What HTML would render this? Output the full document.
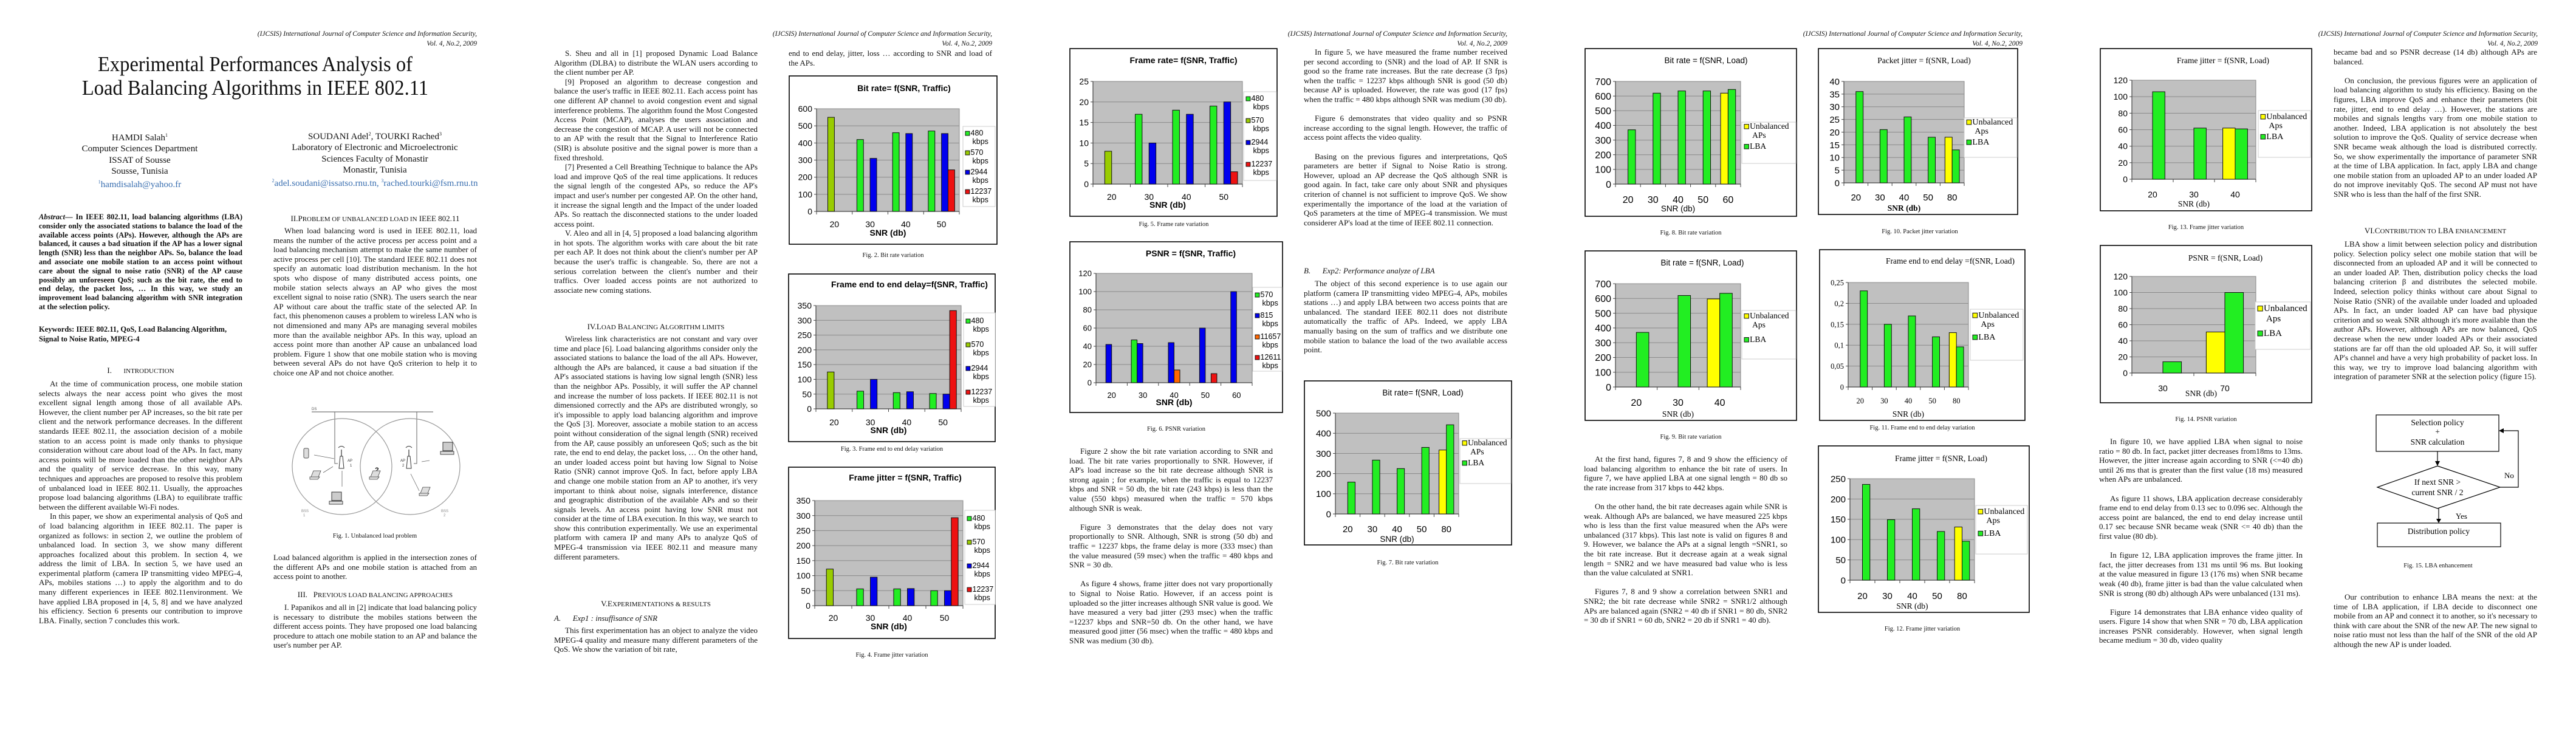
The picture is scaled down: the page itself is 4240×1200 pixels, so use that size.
<!DOCTYPE html>
<html><head><meta charset="utf-8">
<style>
body{margin:0;width:4240px;height:1200px;background:#fff;position:relative;overflow:hidden;font-family:"Liberation Serif",serif;color:#111}
.t{position:absolute;width:335px;font-size:13px;line-height:15.6px;text-align:justify}
.t p{margin:0;text-indent:18px}
.hd{position:absolute;width:430px;font-style:italic;font-size:11.5px;line-height:15.5px;text-align:right}
.h{position:absolute;width:335px;text-align:center;font-size:13px;line-height:15.6px}
.cap{position:absolute;width:340px;text-align:center;font-size:10.5px}
.au{position:absolute;width:360px;text-align:center;font-size:15px;line-height:18.3px}
.au a{color:#3a6fb0;text-decoration:none}
svg{position:absolute;left:0;top:0}
</style></head><body>
<svg id="cv" width="4240" height="1200" viewBox="0 0 4240 1200"></svg>

<div class="hd" style="left:355px;top:49px">(IJCSIS) International Journal of Computer Science and Information Security,<br>Vol. 4, No.2, 2009</div>
<div class="hd" style="left:1203px;top:49px">(IJCSIS) International Journal of Computer Science and Information Security,<br>Vol. 4, No.2, 2009</div>
<div class="hd" style="left:2051px;top:49px">(IJCSIS) International Journal of Computer Science and Information Security,<br>Vol. 4, No.2, 2009</div>
<div class="hd" style="left:2899px;top:49px">(IJCSIS) International Journal of Computer Science and Information Security,<br>Vol. 4, No.2, 2009</div>
<div class="hd" style="left:3747px;top:49px">(IJCSIS) International Journal of Computer Science and Information Security,<br>Vol. 4, No.2, 2009</div>

<div style="position:absolute;left:60px;top:86px;width:720px;text-align:center;font-size:35px;line-height:39px;transform:scaleX(0.93);transform-origin:360px 0">Experimental Performances Analysis of<br>Load Balancing Algorithms in IEEE 802.11</div>

<div class="au" style="left:50px;top:214px">HAMDI Salah<sup style="font-size:8px">1</sup><br>Computer Sciences Department<br>ISSAT of Sousse<br>Sousse, Tunisia<br><a><sup style="font-size:8px">1</sup>hamdisalah@yahoo.fr</a></div>
<div class="au" style="left:417px;top:212px;width:400px">SOUDANI Adel<sup style="font-size:8px">2</sup>, TOURKI Rached<sup style="font-size:8px">3</sup><br>Laboratory of Electronic and Microelectronic<br>Sciences Faculty of Monastir<br>Monastir, Tunisia<br><a><sup style="font-size:8px">2</sup>adel.soudani@issatso.rnu.tn, <sup style="font-size:8px">3</sup>rached.tourki@fsm.rnu.tn</a></div>

<div class="t" style="left:64px;top:350px;font-weight:bold;font-size:12.5px;line-height:14.8px"><i>Abstract</i>— In IEEE 802.11, load balancing algorithms (LBA) consider only the associated stations to balance the load of the available access points (APs). However, although the APs are balanced, it causes a bad situation if the AP has a lower signal length (SNR) less than the neighbor APs. So, balance the load and associate one mobile station to an access point without care about the signal to noise ratio (SNR) of the AP cause possibly an unforeseen QoS; such as the bit rate, the end to end delay, the packet loss, … In this way, we study an improvement load balancing algorithm with SNR integration at the selection policy.</div>
<div class="t" style="left:64px;top:535px;font-weight:bold;font-size:12.5px;text-align:left">Keywords: IEEE 802.11, QoS, Load Balancing Algorithm, Signal to Noise Ratio, MPEG-4</div>
<div class="h" style="left:64px;top:602px">I.&nbsp;&nbsp;&nbsp;&nbsp;&nbsp;&nbsp;<span style="font-size:11px">INTRODUCTION</span></div>
<div class="t" style="left:64px;top:624px"><p>At the time of communication process, one mobile station selects always the near access point who gives the most excellent signal length among those of all available APs. However, the client number per AP increases, so the bit rate per client and the network performance decreases. In the different standards IEEE 802.11, the association decision of a mobile station to an access point is made only thanks to physique consideration without care about load of the APs. In fact, many access points will be more loaded than the other neighbor APs and the quality of service decrease. In this way, many techniques and approaches are proposed to resolve this problem of unbalanced load in IEEE 802.11. Usually, the approaches propose load balancing algorithms (LBA) to equilibrate traffic between the different available Wi-Fi nodes.</p><p>In this paper, we show an experimental analysis of QoS and of load balancing algorithm in IEEE 802.11. The paper is organized as follows: in section 2, we outline the problem of unbalanced load. In section 3, we show many different approaches focalized about this problem. In section 4, we address the limit of LBA. In section 5, we have used an experimental platform (camera IP transmitting video MPEG-4, APs, mobiles stations …) to apply the algorithm and to do many different experiences in IEEE 802.11environment. We have applied LBA proposed in [4, 5, 8] and we have analyzed his efficiency. Section 6 presents our contribution to improve LBA. Finally, section 7 concludes this work.</p></div>

<div class="h" style="left:450px;top:352px">II.P<span style="font-size:11px">ROBLEM OF UNBALANCED LOAD IN</span> IEEE 802.11</div>
<div class="t" style="left:450px;top:372px"><p>When load balancing word is used in IEEE 802.11, load means the number of the active process per access point and a load balancing mechanism attempt to make the same number of active process per cell [10]. The standard IEEE 802.11 does not specify an automatic load distribution mechanism. In the hot spots who dispose of many distributed access points, one mobile station selects always an AP who gives the most excellent signal to noise ratio (SNR). The users search the near AP without care about the traffic state of the selected AP. In fact, this phenomenon causes a problem to wireless LAN who is not dimensioned and many APs are managing several mobiles more than the available neighbor APs. In this way, upload an access point more than another AP cause an unbalanced load problem. Figure 1 show that one mobile station who is moving between several APs do not have QoS criterion to help it to choice one AP and not choice another.</p></div>
<div class="cap" style="left:447px;top:877px">Fig. 1. Unbalanced load problem</div>
<div class="t" style="left:450px;top:910px">Load balanced algorithm is applied in the intersection zones of the different APs and one mobile station is attached from an access point to another.</div>
<div class="h" style="left:450px;top:971px">III.&nbsp;&nbsp;&nbsp;P<span style="font-size:11px">REVIOUS LOAD BALANCING APPROACHES</span></div>
<div class="t" style="left:450px;top:992px"><p>I. Papanikos and all in [2] indicate that load balancing policy is necessary to distribute the mobiles stations between the different access points. They have proposed one load balancing procedure to attach one mobile station to an AP and balance the user's number per AP.</p></div>

<div class="t" style="left:912px;top:80px"><p>S. Sheu and all in [1] proposed Dynamic Load Balance Algorithm (DLBA) to distribute the WLAN users according to the client number per AP.</p><p>[9] Proposed an algorithm to decrease congestion and balance the user's traffic in IEEE 802.11. Each access point has one different AP channel to avoid congestion event and signal interference problems. The algorithm found the Most Congested Access Point (MCAP), analyses the users association and decrease the congestion of MCAP. A user will not be connected to an AP with the result that the Signal to Interference Ratio (SIR) is absolute positive and the signal power is more than a fixed threshold.</p><p>[7] Presented a Cell Breathing Technique to balance the APs load and improve QoS of the real time applications. It reduces the signal length of the congested APs, so reduce the AP's impact and user's number per congested AP. On the other hand, it increase the signal length and the Impact of the under loaded APs. So reattach the disconnected stations to the under loaded access point.</p><p>V. Aleo and all in [4, 5] proposed a load balancing algorithm in hot spots. The algorithm works with care about the bit rate per each AP. It does not think about the client's number per AP because the user's traffic is changeable. So, there are not a serious correlation between the client's number and their traffics. Over loaded access points are not authorized to associate new coming stations.</p></div>
<div class="h" style="left:912px;top:530px">IV.L<span style="font-size:11px">OAD</span> B<span style="font-size:11px">ALANCING</span> A<span style="font-size:11px">LGORITHM LIMITS</span></div>
<div class="t" style="left:912px;top:550px"><p>Wireless link characteristics are not constant and vary over time and place [6]. Load balancing algorithms consider only the associated stations to balance the load of the all APs. However, although the APs are balanced, it cause a bad situation if the AP's associated stations is having low signal length (SNR) less than the neighbor APs. Possibly, it will suffer the AP channel and increase the number of loss packets. If IEEE 802.11 is not dimensioned correctly and the APs are distributed wrongly, so it's impossible to apply load balancing algorithm and improve the QoS [3]. Moreover, associate a mobile station to an access point without consideration of the signal length (SNR) received from the AP, cause possibly an unforeseen QoS; such as the bit rate, the end to end delay, the packet loss, … On the other hand, an under loaded access point but having low Signal to Noise Ratio (SNR) cannot improve QoS. In fact, before apply LBA and change one mobile station from an AP to another, it's very important to think about noise, signals interference, distance and geographic distribution of the available APs and so their signals levels. An access point having low SNR must not consider at the time of LBA execution. In this way, we search to show this contribution experimentally. We use an experimental platform with camera IP and many APs to analyze QoS of MPEG-4 transmission via IEEE 802.11 and measure many different parameters.</p></div>
<div class="h" style="left:912px;top:986px">V.E<span style="font-size:11px">XPERIMENTATIONS &amp; RESULTS</span></div>
<div class="t" style="left:912px;top:1010px;font-style:italic;text-align:left">A.&nbsp;&nbsp;&nbsp;&nbsp;&nbsp;&nbsp;Exp1 : insuffisance of SNR</div>
<div class="t" style="left:912px;top:1030px"><p>This first experimentation has an object to analyze the video MPEG-4 quality and measure many different parameters of the QoS. We show the variation of bit rate,</p></div>
<div class="t" style="left:1298px;top:80px">end to end delay, jitter, loss … according to SNR and load of the APs.</div>
<div class="cap" style="left:1300px;top:415px">Fig. 2. Bit rate variation</div>
<div class="cap" style="left:1298px;top:734px">Fig. 3. Frame end to end delay variation</div>
<div class="cap" style="left:1298px;top:1073px">Fig. 4. Frame jitter variation</div>

<div class="cap" style="left:1762px;top:364px">Fig. 5. Frame rate variation</div>
<div class="cap" style="left:1766px;top:701px">Fig. 6. PSNR variation</div>
<div class="t" style="left:1760px;top:735px"><p>Figure 2 show the bit rate variation according to SNR and load. The bit rate varies proportionally to SNR. However, if AP's load increase so the bit rate decrease although SNR is strong again ; for example, when the traffic is equal to 12237 kbps and SNR = 50 db, the bit rate (243 kbps) is less than the value (550 kbps) measured when the traffic = 570 kbps although SNR is weak.</p><p style="margin-top:15.6px">Figure 3 demonstrates that the delay does not vary proportionally to SNR. Although, SNR is strong (50 db) and traffic = 12237 kbps, the frame delay is more (333 msec) than the value measured (59 msec) when the traffic = 480 kbps and SNR = 30 db.</p><p style="margin-top:15.6px">As figure 4 shows, frame jitter does not vary proportionally to Signal to Noise Ratio. However, if an access point is uploaded so the jitter increases although SNR value is good. We have measured a very bad jitter (293 msec) when the traffic =12237 kbps and SNR=50 db. On the other hand, we have measured good jitter (56 msec) when the traffic = 480 kbps and SNR was medium (30 db).</p></div>
<div class="t" style="left:2146px;top:78px"><p>In figure 5, we have measured the frame number received per second according to (SNR) and the load of AP. If SNR is good so the frame rate increases. But the rate decrease (3 fps) when the traffic = 12237 kbps although SNR is good (50 db) because AP is uploaded. However, the rate was good (17 fps) when the traffic = 480 kbps although SNR was medium (30 db).</p><p style="margin-top:15.6px">Figure 6 demonstrates that video quality and so PSNR increase according to the signal length. However, the traffic of access point affects the video quality.</p><p style="margin-top:15.6px">Basing on the previous figures and interpretations, QoS parameters are better if Signal to Noise Ratio is strong. However, upload an AP decrease the QoS although SNR is good again. In fact, take care only about SNR and physiques criterion of channel is not sufficient to improve QoS. We show experimentally the importance of the load at the variation of QoS parameters at the time of MPEG-4 transmission. We must considerer AP's load at the time of IEEE 802.11 connection.</p></div>
<div class="t" style="left:2146px;top:438px;font-style:italic;text-align:left">B.&nbsp;&nbsp;&nbsp;&nbsp;&nbsp;&nbsp;Exp2: Performance analyze of LBA</div>
<div class="t" style="left:2146px;top:459px"><p>The object of this second experience is to use again our platform (camera IP transmitting video MPEG-4, APs, mobiles stations …) and apply LBA between two access points that are unbalanced. The standard IEEE 802.11 does not distribute automatically the traffic of APs. Indeed, we apply LBA manually basing on the sum of traffics and we distribute one mobile station to balance the load of the two available access point.</p></div>
<div class="cap" style="left:2147px;top:921px">Fig. 7. Bit rate variation</div>

<div class="cap" style="left:2613px;top:378px">Fig. 8. Bit rate variation</div>
<div class="cap" style="left:2613px;top:714px">Fig. 9. Bit rate variation</div>
<div class="t" style="left:2607px;top:748px"><p>At the first hand, figures 7, 8 and 9 show the efficiency of load balancing algorithm to enhance the bit rate of users. In figure 7, we have applied LBA at one signal length = 80 db so the rate increase from 317 kbps to 442 kbps.</p><p style="margin-top:15.6px">On the other hand, the bit rate decreases again while SNR is weak. Although APs are balanced, we have measured 225 kbps who is less than the first value measured when the APs were unbalanced (317 kbps). This last note is valid on figures 8 and 9. However, we balance the APs at a signal length =SNR1, so the bit rate increase. But it decrease again at a weak signal length = SNR2 and we have measured bad value who is less than the value calculated at SNR1.</p><p style="margin-top:15.6px">Figures 7, 8 and 9 show a correlation between SNR1 and SNR2; the bit rate decrease while SNR2 = SNR1/2 although APs are balanced again (SNR2 = 40 db if SNR1 = 80 db, SNR2 = 30 db if SNR1 = 60 db, SNR2 = 20 db if SNR1 = 40 db).</p></div>
<div class="cap" style="left:2990px;top:376px">Fig. 10. Packet jitter variation</div>
<div class="cap" style="left:2994px;top:699px">Fig. 11. Frame end to end delay variation</div>
<div class="cap" style="left:2994px;top:1030px">Fig. 12. Frame jitter variation</div>

<div class="cap" style="left:3461px;top:369px">Fig. 13. Frame jitter variation</div>
<div class="cap" style="left:3461px;top:685px">Fig. 14. PSNR variation</div>
<div class="t" style="left:3455px;top:719px"><p>In figure 10, we have applied LBA when signal to noise ratio = 80 db. In fact, packet jitter decreases from18ms to 13ms. However, the jitter increase again according to SNR (&lt;=40 db) until 26 ms that is greater than the first value (18 ms) measured when APs are unbalanced.</p><p style="margin-top:15.6px">As figure 11 shows, LBA application decrease considerably frame end to end delay from 0.13 sec to 0.096 sec. Although the access point are balanced, the end to end delay increase until 0.17 sec because SNR became weak (SNR &lt;= 40 db) than the first value (80 db).</p><p style="margin-top:15.6px">In figure 12, LBA application improves the frame jitter. In fact, the jitter decreases from 131 ms until 96 ms. But looking at the value measured in figure 13 (176 ms) when SNR became weak (40 db), frame jitter is bad than the value calculated when SNR is strong (80 db) although APs were unbalanced (131 ms).</p><p style="margin-top:15.6px">Figure 14 demonstrates that LBA enhance video quality of users. Figure 14 show that when SNR = 70 db, LBA application increases PSNR considerably. However, when signal length became medium = 30 db, video quality</p></div>
<div class="t" style="left:3841px;top:78px">became bad and so PSNR decrease (14 db) although APs are balanced.<p style="margin-top:15.6px">On conclusion, the previous figures were an application of load balancing algorithm to study his efficiency. Basing on the figures, LBA improve QoS and enhance their parameters (bit rate, jitter, end to end delay …). However, the stations are mobiles and signals lengths vary from one mobile station to another. Indeed, LBA application is not absolutely the best solution to improve the QoS. Quality of service decrease when SNR became weak although the load is distributed correctly. So, we show experimentally the importance of parameter SNR at the time of LBA application. In fact, apply LBA and change one mobile station from an uploaded AP to an under loaded AP do not improve inevitably QoS. The second AP must not have SNR who is less than the half of the first SNR.</p></div>
<div class="h" style="left:3841px;top:372px">VI.C<span style="font-size:11px">ONTRIBUTION TO</span> LBA <span style="font-size:11px">ENHANCEMENT</span></div>
<div class="t" style="left:3841px;top:394px"><p>LBA show a limit between selection policy and distribution policy. Selection policy select one mobile station that will be disconnected from an uploaded AP and it will be connected to an under loaded AP. Then, distribution policy checks the load balancing criterion β and distributes the selected mobile. Indeed, selection policy thinks without care about Signal to Noise Ratio (SNR) of the available under loaded and uploaded APs. In fact, an under loaded AP can have bad physique criterion and so weak SNR although it's more available than the author APs. However, although APs are now balanced, QoS decrease when the new under loaded APs or their associated stations are far off than the old uploaded AP. So, it will suffer AP's channel and have a very high probability of packet loss. In this way, we try to improve load balancing algorithm with integration of parameter SNR at the selection policy (figure 15).</p></div>
<div class="cap" style="left:3843px;top:926px">Fig. 15. LBA enhancement</div>
<div class="t" style="left:3841px;top:975px"><p>Our contribution to enhance LBA means the next: at the time of LBA application, if LBA decide to disconnect one mobile from an AP and connect it to another, so it's necessary to think with care about the SNR of the new AP. The new signal to noise ratio must not less than the half of the SNR of the old AP although the new AP is under loaded.</p></div>

<script>
// ===== Fig 2: Bit rate = f(SNR, Traffic)
const f2Cats=["20","30","40","50"];
const f2Names=["480","570","2944","12237"];
const f2V480=[null,420,460,470];
const f2V570=[550,null,null,null];
const f2V2944=[null,310,455,455];
const f2V12237=[null,null,null,243];
const f2Ticks=[0,100,200,300,400,500,600];
// ===== Fig 3: Frame end to end delay
const f3Cats=["20","30","40","50"];
const f3Names=["480","570","2944","12237"];
const f3V480=[null,60,55,52];
const f3V570=[125,null,null,null];
const f3V2944=[null,100,58,50];
const f3V12237=[null,null,null,333];
const f3Ticks=[0,50,100,150,200,250,300,350];
// ===== Fig 4: Frame jitter
const f4Cats=["20","30","40","50"];
const f4Names=["480","570","2944","12237"];
const f4V480=[null,56,56,50];
const f4V570=[122,null,null,null];
const f4V2944=[null,95,57,50];
const f4V12237=[null,null,null,293];
const f4Ticks=[0,50,100,150,200,250,300,350];
// ===== Fig 5: Frame rate
const f5Cats=["20","30","40","50"];
const f5Names=["480","570","2944","12237"];
const f5V480=[null,17,18,19];
const f5V570=[8,null,null,null];
const f5V2944=[null,10,17,20];
const f5V12237=[null,null,null,3];
const f5Ticks=[0,5,10,15,20,25];
// ===== Fig 6: PSNR = f(SNR, Traffic)
const f6Cats=["20","30","40","50","60"];
const f6Names=["570","815","11657","12611"];
const f6V570=[null,47,null,null,null];
const f6V815=[42,43,44,60,100];
const f6V11657=[null,null,14,null,null];
const f6V12611=[null,null,null,10,null];
const f6Ticks=[0,20,40,60,80,100,120];
// ===== Fig 7
const f7Cats=["20","30","40","50","80"];
const f7Unb=[null,null,null,null,317];
const f7LBA=[158,267,225,330,442];
const f7Ticks=[0,100,200,300,400,500];
// ===== Fig 8
const f8Cats=["20","30","40","50","60"];
const f8Unb=[null,null,null,null,620];
const f8LBA=[370,620,635,635,645];
const f8Ticks=[0,100,200,300,400,500,600,700];
// ===== Fig 9
const f9Cats=["20","30","40"];
const f9Unb=[null,null,597];
const f9LBA=[370,620,635];
const f9Ticks=[0,100,200,300,400,500,600,700];
// ===== Fig 10 Packet jitter
const f10Cats=["20","30","40","50","80"];
const f10Unb=[null,null,null,null,18];
const f10LBA=[36,21,26,18,13];
const f10Ticks=[0,5,10,15,20,25,30,35,40];
// ===== Fig 11 Frame end to end delay
const f11Cats=["20","30","40","50","80"];
const f11Unb=[null,null,null,null,0.13];
const f11LBA=[0.23,0.15,0.17,0.12,0.096];
const f11Ticks=[0,0.05,0.1,0.15,0.2,0.25];
const f11TickLabels=["0","0,05","0,1","0,15","0,2","0,25"];
// ===== Fig 12 Frame jitter
const f12Cats=["20","30","40","50","80"];
const f12Unb=[null,null,null,null,131];
const f12LBA=[236,149,176,120,96];
const f12Ticks=[0,50,100,150,200,250];
// ===== Fig 13 Frame jitter
const f13Cats=["20","30","40"];
const f13Unb=[null,null,62];
const f13LBA=[106,62,61];
const f13Ticks=[0,20,40,60,80,100,120];
// ===== Fig 14 PSNR
const f14Cats=["30","70"];
const f14Unb=[null,51];
const f14LBA=[14,100];
const f14Ticks=[0,20,40,60,80,100,120];

const NS="http://www.w3.org/2000/svg";
const cv=document.getElementById('cv');
function mk(tag,at,parent){const e=document.createElementNS(NS,tag);for(const k in at)e.setAttribute(k,at[k]);(parent||cv).appendChild(e);return e;}
function tx(str,at,parent){const e=mk('text',at,parent);e.textContent=str;return e;}

const GREEN="#22ee22",OLIVE="#99cc00",BLUE="#0000ee",RED="#ee1111",ORANGE="#ff6600",YELLOW="#ffff00";
const SANS='"Liberation Sans",Arial,sans-serif',SERIF='"Liberation Serif",serif';

function drawChart(c){
  const g=mk('g',{});
  
  
  const [bx1,by1,bx2,by2]=c.box,[px1,py1,px2,py2]=c.plot;
  const frame=mk('rect',{x:bx1,y:by1,width:bx2-bx1,height:by2-by1,fill:'#fff',stroke:'#000','stroke-width':1.6},g);
  
  
  const pa=mk('rect',{x:px1,y:py1,width:px2-px1,height:py2-py1,fill:'#c0c0c0',stroke:'#888','stroke-width':1},g);
  
  
  const ymax=c.ticks[c.ticks.length-1];
  const ys=v=>py2-v/ymax*(py2-py1);
  c.ticks.forEach((v,i)=>{
    if(v>0){const gl=mk('line',{x1:px1,x2:px2,y1:ys(v),y2:ys(v),stroke:'#8a8a8a','stroke-width':1},g);
      
      }
    const lab=c.tickLabels?c.tickLabels[i]:String(v);
    const t=tx(lab,{x:px1-7,y:ys(v)+c.tfs*0.36,'text-anchor':'end','font-size':c.tfs,'font-family':c.tfont,fill:'#000'},g);
    
    
    mk('line',{x1:px1-4,x2:px1,y1:ys(v),y2:ys(v),stroke:'#444'},g);
  });
  mk('line',{x1:px1,x2:px1,y1:py1,y2:py2,stroke:'#444','stroke-width':1.2},g);
  mk('line',{x1:px1,x2:px2,y1:py2,y2:py2,stroke:'#444','stroke-width':1.2},g);
  const n=c.cats.length,cw=(px2-px1)/n,ns=c.series.length,w=cw*c.slot;
  for(let i=0;i<=n;i++)mk('line',{x1:px1+i*cw,x2:px1+i*cw,y1:py2,y2:py2+5,stroke:'#444'},g);
  c.cats.forEach((cat,i)=>{
    const cx=px1+cw*(i+0.5);
    c.series.forEach((s,j)=>{
      const v=s.vals[i]; if(v==null)return;
      const x=cx-ns*w/2+j*w;
      const b=mk('rect',{x:x,y:ys(v),width:w,height:py2-ys(v),fill:s.color,stroke:'#111','stroke-width':1},g);
      
      
    });
    const xl=tx(cat,{x:cx,y:c.xly,'text-anchor':'middle','font-size':c.xfs||c.tfs,'font-family':c.xfont||c.tfont,fill:'#000'},g);
    
    
  });
  const at=tx('SNR (db)',{x:c.atx||(px1+px2)/2,y:c.aty,'text-anchor':'middle','font-size':c.afs,'font-family':c.afont,'font-weight':c.abold?'bold':'normal',fill:'#000'},g);
  
  
  const ti=tx(c.title,{x:c.ttx,y:c.tty,'text-anchor':'middle','font-size':c.ttfs,'font-family':c.ttfont,'font-weight':c.ttbold?'bold':'normal',fill:'#000'},g);
  
  
  const [lx1,ly1,lx2,ly2]=c.legend;
  const lg=mk('rect',{x:lx1,y:ly1,width:lx2-lx1,height:ly2-ly1,fill:'#fff',stroke:'#ccc','stroke-width':1},g);
  
  
  c.series.forEach((s,j)=>{
    const ey=ly1+c.legOff[j];
    const m=mk('rect',{x:lx1+4,y:ey-c.lfs*0.55,width:c.lfs*0.55,height:c.lfs*0.55,fill:s.color,stroke:'#111','stroke-width':1},g);
    
    
    const lt=tx(s.label[0],{x:lx1+5+c.lfs*0.6,y:ey,'font-size':c.lfs,'font-family':c.lfont,fill:'#000'},g);
    
    
    if(s.label[1]){const l2=tx(s.label[1],{x:lx1+5+c.lfs*0.6+c.l2ind,y:ey+c.l2dy,'font-size':c.lfs,'font-family':c.lfont,fill:'#000'},g);
      
      }
  });
}
function traffic(names,vals,colors){return names.map((nm,j)=>({name:nm,label:[nm,'kbps'],vals:vals[j],color:colors[j]}));}
function load(unb,lba,aps){return [{name:'Unbalanced',label:['Unbalanced',aps],vals:unb,color:YELLOW},{name:'LBA',label:['LBA',null],vals:lba,color:GREEN}];}
const C4=[GREEN,OLIVE,BLUE,RED];
const t4={tfs:14,tfont:SANS,afs:14,afont:SANS,abold:true,ttfs:14,ttfont:SANS,ttbold:true,lfs:12.5,lfont:SANS,l2ind:3,l2dy:14,slot:0.185};
const t2s={tfs:16,tfont:SANS,afs:13.5,afont:SANS,abold:false,ttfs:13.5,ttfont:SANS,ttbold:false,lfs:13.5,lfont:SERIF,l2ind:4,l2dy:15,slot:0.3,legOff:[11,44]};
const t2r={tfs:15,tfont:SANS,afs:13.5,afont:SERIF,abold:true,ttfs:13.5,ttfont:SERIF,ttbold:false,lfs:14,lfont:SERIF,l2ind:4,l2dy:15,slot:0.3,legOff:[11,44]};

drawChart(Object.assign({},t4,{id:'fig2-bit-rate-chart',title:'Bit rate= f(SNR, Traffic)',box:[1299,125,1641,402],plot:[1344,179,1579,348],legend:[1585,208,1638,340],ttx:1488,tty:150,xly:374,aty:388,cats:f2Cats,ticks:f2Ticks,legOff:[15,47,79,111],series:traffic(f2Names,[f2V480,f2V570,f2V2944,f2V12237],C4)}));
drawChart(Object.assign({},t4,{id:'fig3-delay-chart',title:'Frame end to end delay=f(SNR, Traffic)',box:[1298,451,1638,727],plot:[1343,503,1582,673],legend:[1586,515,1638,669],ttx:1497,tty:473,xly:700,aty:713,cats:f3Cats,ticks:f3Ticks,legOff:[17,56,95,134],series:traffic(f3Names,[f3V480,f3V570,f3V2944,f3V12237],C4)}));
drawChart(Object.assign({},t4,{id:'fig4-jitter-chart',title:'Frame jitter  = f(SNR, Traffic)',box:[1298,769,1638,1051],plot:[1341,824,1585,997],legend:[1588,840,1638,995],ttx:1490,tty:791,xly:1022,aty:1036,cats:f4Cats,ticks:f4Ticks,legOff:[17,56,95,134],series:traffic(f4Names,[f4V480,f4V570,f4V2944,f4V12237],C4)}));
drawChart(Object.assign({},t4,{id:'fig5-frame-rate-chart',title:'Frame rate= f(SNR, Traffic)',box:[1761,80,2102,356],plot:[1799,134,2045,303],legend:[2047,151,2101,297],ttx:1948,tty:104,xly:329,aty:342,cats:f5Cats,ticks:f5Ticks,legOff:[15,51,87,123],series:traffic(f5Names,[f5V480,f5V570,f5V2944,f5V12237],C4)}));
drawChart(Object.assign({},t4,{id:'fig6-psnr-chart',title:'PSNR = f(SNR, Traffic)',box:[1761,398,2111,679],plot:[1804,450,2061,630],legend:[2062,473,2110,611],ttx:1960,tty:422,xly:655,aty:667,tfs:13,lfs:12.5,l2dy:14,cats:f6Cats,ticks:f6Ticks,legOff:[16,50,85,119],series:traffic(f6Names,[f6V570,f6V815,f6V11657,f6V12611],[GREEN,BLUE,ORANGE,RED])}));

drawChart(Object.assign({},t2s,{id:'fig7-bit-rate-load-chart',title:'Bit rate= f(SNR, Load)',box:[2147,627,2488,897],plot:[2198,680,2401,846],legend:[2403,722,2487,796],ttx:2342,tty:651,xly:876,aty:892,tfs:15,cats:f7Cats,ticks:f7Ticks,series:load(f7Unb,f7LBA,'APs')}));
drawChart(Object.assign({},t2s,{id:'fig8-bit-rate-load-chart',title:'Bit rate = f(SNR, Load)',box:[2609,80,2957,356],plot:[2659,134,2865,303],legend:[2867,201,2956,269],ttx:2808,tty:104,xly:334,aty:348,cats:f8Cats,ticks:f8Ticks,series:load(f8Unb,f8LBA,'APs')}));
drawChart(Object.assign({},t2s,{id:'fig9-bit-rate-load-chart',title:'Bit rate = f(SNR, Load)',box:[2609,413,2957,692],plot:[2659,467,2865,637],legend:[2867,511,2956,591],ttx:2802,tty:437,xly:668,aty:686,afont:SERIF,cats:f9Cats,ticks:f9Ticks,legOff:[13,52],series:load(f9Unb,f9LBA,'Aps')}));
drawChart(Object.assign({},t2r,{id:'fig10-packet-jitter-chart',title:'Packet jitter = f(SNR, Load)',box:[2993,80,3321,353],plot:[3035,134,3233,301],legend:[3233,194,3320,259],ttx:3167,tty:104,xly:330,aty:347,cats:f10Cats,ticks:f10Ticks,series:load(f10Unb,f10LBA,'Aps')}));
drawChart(Object.assign({},t2r,{id:'fig11-delay-load-chart',title:'Frame end to end delay =f(SNR, Load)',box:[2995,411,3333,692],plot:[3042,465,3240,637],legend:[3243,509,3330,593],ttx:3210,tty:434,xly:664,aty:686,tfs:12.5,tfont:SERIF,xfs:12.5,xfont:SERIF,afont:SERIF,abold:false,tickLabels:f11TickLabels,legOff:[14,50],cats:f11Cats,ticks:f11Ticks,series:load(f11Unb,f11LBA,'Aps')}));
drawChart(Object.assign({},t2r,{id:'fig12-frame-jitter-chart',title:'Frame jitter = f(SNR, Load)',box:[2993,734,3340,1008],plot:[3045,788,3250,955],legend:[3252,832,3337,912],ttx:3195,tty:759,xly:986,aty:1002,abold:false,legOff:[14,50],cats:f12Cats,ticks:f12Ticks,series:load(f12Unb,f12LBA,'Aps')}));
drawChart(Object.assign({},t2r,{id:'fig13-frame-jitter-chart',title:'Frame jitter = f(SNR, Load)',box:[3457,80,3805,347],plot:[3509,132,3713,295],legend:[3717,182,3803,259],ttx:3659,tty:104,xly:325,aty:340,tfs:14,afont:SERIF,abold:false,legOff:[14,47],cats:f13Cats,ticks:f13Ticks,series:load(f13Unb,f13LBA,'Aps')}));
drawChart(Object.assign({},t2r,{id:'fig14-psnr-load-chart',title:'PSNR = f(SNR, Load)',box:[3457,404,3805,663],plot:[3509,455,3713,614],legend:[3712,497,3803,575],ttx:3663,tty:429,xly:644,aty:652,atx:3623,tfs:14,lfs:15,afont:SERIF,abold:false,legOff:[15,56],l2dy:17,cats:f14Cats,ticks:f14Ticks,series:load(f14Unb,f14LBA,'Aps')}));

// ===== Fig 1 network diagram
(function(){
  const g=mk('g',{});
  
  
  mk('line',{x1:513,y1:678,x2:713,y2:678,stroke:'#777','stroke-width':1.2},g);
  tx('DS',{x:513,y:675,'font-size':6,'font-family':SANS,fill:'#555'},g);
  mk('polyline',{points:'551,678 551,763 556,763',fill:'none',stroke:'#666','stroke-width':1},g);
  mk('polyline',{points:'686,678 686,763 681,763',fill:'none',stroke:'#666','stroke-width':1},g);
  const c1=mk('ellipse',{cx:563,cy:768,rx:82,ry:79,fill:'none',stroke:'#999','stroke-width':1.2},g);
  
  
  const c2=mk('ellipse',{cx:675,cy:768,rx:82,ry:79,fill:'none',stroke:'#999','stroke-width':1.2},g);
  
  
  [[562,'AP','1'],[673,'AP','2']].forEach(([x,a,b])=>{
    mk('path',{d:`M${x-4} ${771} L${x-2} ${751} L${x+2} ${751} L${x+4} ${771} Z`,fill:'#fff',stroke:'#333'},g);
    mk('line',{x1:x,y1:751,x2:x,y2:740,stroke:'#333','stroke-width':1.2},g);
    mk('path',{d:`M${x-5} ${737} Q${x} ${732} ${x+5} ${737}`,fill:'none',stroke:'#333'},g);
  });
  tx('AP',{x:572,y:760,'font-size':6,'font-family':SANS,fill:'#333'},g);tx('1',{x:576,y:768,'font-size':6,'font-family':SANS,fill:'#333'},g);
  tx('AP',{x:659,y:760,'font-size':6,'font-family':SANS,fill:'#333'},g);tx('2',{x:662,y:768,'font-size':6,'font-family':SANS,fill:'#333'},g);
  tx('?',{x:617,y:777,'font-size':11,'font-weight':'bold','font-family':SANS,fill:'#111'},g);
  mk('rect',{x:500,y:738,width:8,height:16,rx:2,fill:'#ddd',stroke:'#555'},g);
  [[512,785],[610,785],[692,812]].forEach(([x,y])=>{mk('path',{d:`M${x} ${y} l4 -10 h12 l-4 10 z M${x-2} ${y} h16 l-3 4 h-13 z`,fill:'#ddd',stroke:'#444','stroke-width':0.8},g);});
  [[546,810],[729,728]].forEach(([x,y])=>{mk('rect',{x:x,y:y,width:16,height:14,fill:'#ccc',stroke:'#333'},g);mk('rect',{x:x-4,y:y+15,width:22,height:5,fill:'#ddd',stroke:'#444'},g);});
  [[517,749,550,755],[532,778,548,768],[563,775,563,801],[694,760,707,758],[676,780,690,808]].forEach(([a,b,c,d])=>mk('line',{x1:a,y1:b,x2:c,y2:d,stroke:'#666','stroke-width':0.8},g));
  tx('BSS',{x:496,y:843,'font-size':6,'font-family':SANS,fill:'#888'},g);tx('1',{x:499,y:850,'font-size':6,'font-family':SANS,fill:'#888'},g);
  tx('BSS',{x:726,y:843,'font-size':6,'font-family':SANS,fill:'#888'},g);tx('2',{x:730,y:850,'font-size':6,'font-family':SANS,fill:'#888'},g);
})();

// ===== Fig 15 flowchart
(function(){
  const g=mk('g',{});
  
  
  const b1=mk('rect',{x:3911,y:683,width:202,height:60,fill:'#fff',stroke:'#000','stroke-width':1.2},g);
  
  
  [['Selection policy',700],['+',715],['SNR calculation',732]].forEach(([s,y])=>tx(s,{x:4012,y:y,'text-anchor':'middle','font-size':13.5,'font-family':SERIF,fill:'#000'},g));
  mk('line',{x1:4012,y1:743,x2:4012,y2:762,stroke:'#000','stroke-width':1.2},g);
  mk('path',{d:'M4008 759 L4016 759 L4012 767 Z',fill:'#000'},g);
  const d=mk('path',{d:'M4012 767 L4115 802 L4012 837 L3913 802 Z',fill:'#fff',stroke:'#000','stroke-width':1.2},g);
  
  
  tx('If next SNR >',{x:4012,y:798,'text-anchor':'middle','font-size':13.5,'font-family':SERIF,fill:'#000'},g);
  tx('current SNR / 2',{x:4012,y:815,'text-anchor':'middle','font-size':13.5,'font-family':SERIF,fill:'#000'},g);
  mk('polyline',{points:'4115,802 4145,802 4145,709 4120,709',fill:'none',stroke:'#000','stroke-width':1.2},g);
  mk('path',{d:'M4113 709 L4121 705 L4121 713 Z',fill:'#000'},g);
  tx('No',{x:4122,y:787,'font-size':13,'font-family':SERIF,fill:'#000'},g);
  mk('line',{x1:4014,y1:837,x2:4014,y2:857,stroke:'#000','stroke-width':1.2},g);
  mk('path',{d:'M4010 854 L4018 854 L4014 861 Z',fill:'#000'},g);
  tx('Yes',{x:4042,y:854,'font-size':13,'font-family':SERIF,fill:'#000'},g);
  const b3=mk('rect',{x:3913,y:861,width:203,height:39,fill:'#fff',stroke:'#000','stroke-width':1.2},g);
  
  
  tx('Distribution policy',{x:4014,y:879,'text-anchor':'middle','font-size':13.5,'font-family':SERIF,fill:'#000'},g);
})();
</script>
</body></html>
